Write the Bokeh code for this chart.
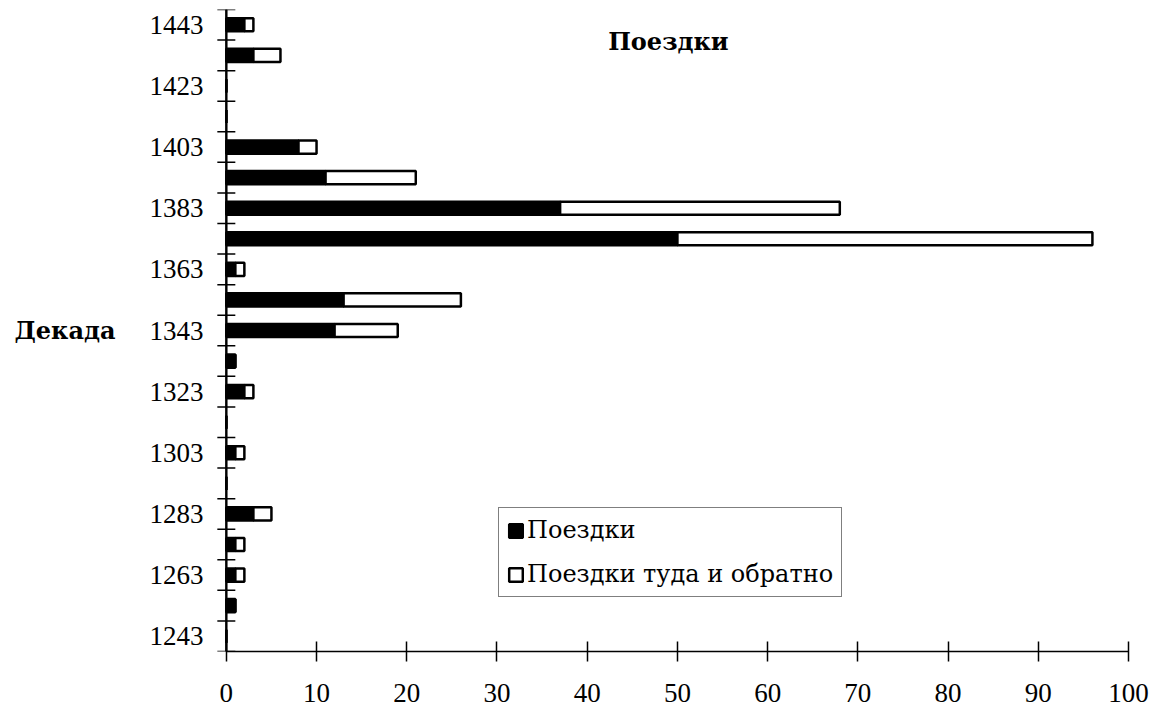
from bokeh.plotting import figure
from bokeh.models import ColumnDataSource, FixedTicker, Range1d, Label
from bokeh.embed import file_html
from bokeh.resources import INLINE

# ---- data ----
decades = [1243, 1253, 1263, 1273, 1283, 1293, 1303, 1313, 1323, 1333, 1343,
           1353, 1363, 1373, 1383, 1393, 1403, 1413, 1423, 1433, 1443]
trips = [0, 1, 1, 1, 3, 0, 1, 0, 2, 1, 12, 13, 1, 50, 37, 11, 8, 0, 0, 3, 2]
round_trips = [0, 0, 1, 1, 2, 0, 1, 0, 1, 0, 7, 13, 1, 46, 31, 10, 2, 0, 0, 3, 1]
y_tick_labels = [1243, 1263, 1283, 1303, 1323, 1343, 1363, 1383, 1403, 1423, 1443]
x_ticks = [0, 10, 20, 30, 40, 50, 60, 70, 80, 90, 100]
series_names = ["Поездки", "Поездки туда и обратно"]
title_text = "Поездки"
y_title = "Декада"

source = ColumnDataSource(dict(decade=decades, trips=trips, round_trips=round_trips))

SERIF = "DejaVu Serif"
NUM = "Liberation Serif"

# a little room left of zero so that the value axis and its ticks are drawn inside the frame
p = figure(output_backend="svg", toolbar_location=None,
           frame_width=913, frame_height=642,
           min_border_left=215, min_border_right=22,
           min_border_top=9, min_border_bottom=60,
           x_range=Range1d(-1.2, 100), y_range=Range1d(1238, 1448))
p.outline_line_color = None
p.grid.visible = False
p.background_fill_color = None
p.border_fill_color = None

renderers = p.hbar_stack(["trips", "round_trips"], y="decade", height=4.3,
                         color=["black", "white"], line_color="black",
                         line_width=2.5, source=source,
                         legend_label=series_names)

# vertical axis rule at zero (piecewise, one piece per decade) and boundary ticks
bounds_lo = [d - 5 for d in decades]
bounds_hi = [d + 5 for d in decades]
p.segment(x0=[0] * len(decades), y0=bounds_lo, x1=[0] * len(decades), y1=bounds_hi,
          line_color="black", line_width=2)
p.rect(x=[0] * len(decades), y=decades, width=2, height=10,
       width_units="screen", fill_color="black", line_color=None)
minor = bounds_lo + [bounds_hi[-1]]
p.scatter(x=[0] * len(minor), y=minor, marker="dash", size=18,
          line_color="black", line_width=1.5)

# x axis
xa = p.xaxis[0]
xa.ticker = FixedTicker(ticks=x_ticks, minor_ticks=[])
xa.bounds = (x_ticks[0], x_ticks[-1])
xa.major_tick_in = 10
xa.major_tick_out = 10
xa.axis_line_width = 1.5
xa.major_tick_line_width = 1.5
xa.major_label_standoff = 22
xa.major_label_text_font = NUM
xa.major_label_text_font_size = "27px"
xa.major_label_text_color = "black"
xa.axis_line_color = "black"
xa.major_tick_line_color = "black"

# y axis (labels only; rule and ticks drawn above)
ya = p.yaxis[0]
ya.ticker = FixedTicker(ticks=y_tick_labels, minor_ticks=[])
ya.major_tick_in = 0
ya.major_tick_out = 0
ya.minor_tick_in = 0
ya.minor_tick_out = 0
ya.axis_line_color = None
ya.major_label_standoff = 12
ya.major_label_text_font = NUM
ya.major_label_text_font_size = "27px"
ya.major_label_text_color = "black"

if "axis_label_orientation" in ya.properties():
    ya.axis_label = y_title
    ya.axis_label_orientation = "horizontal"
    ya.axis_label_standoff = 31
    ya.axis_label_text_font = SERIF
    ya.axis_label_text_font_style = "bold"
    ya.axis_label_text_font_size = "24px"
    ya.axis_label_text_color = "black"

# title inside plot area
p.add_layout(Label(x=49, y=1437.5, text=title_text, text_align="center",
                   text_baseline="middle", text_font=SERIF, text_color="black",
                   text_font_style="bold", text_font_size="24px"))

# legend
lg = p.legend[0]
lg.location = (283, 54)
lg.border_line_color = "black"
lg.border_line_width = 1
lg.background_fill_color = "white"
lg.background_fill_alpha = 1
lg.label_text_font = SERIF
lg.label_text_font_size = "24px"
lg.label_text_color = "black"
lg.glyph_width = 17
lg.glyph_height = 17
lg.label_standoff = 3
lg.spacing = 16
lg.padding = 8
lg.margin = 0

open("out.html", "w").write(file_html(p, INLINE))
